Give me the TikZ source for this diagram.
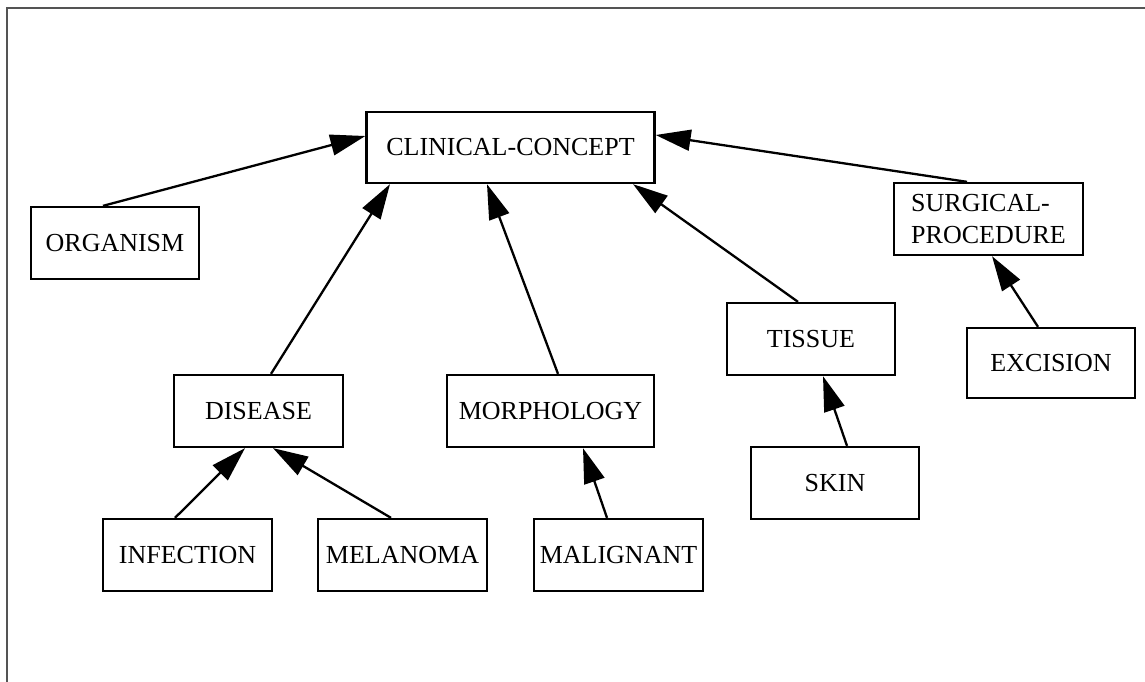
\documentclass[tikz,border=0pt]{standalone}
\usepackage{fontspec}
\setmainfont{Liberation Serif}
\usetikzlibrary{arrows.meta}
\definecolor{framegray}{gray}{0.33}
\tikzset{
  box/.style={draw, line width=2.3pt, inner sep=0pt, minimum height=72pt,
    minimum width=168pt, font=\fontsize{26pt}{32pt}\selectfont, align=center},
  edge/.style={line width=2.3pt, -{Triangle[length=35pt,width=21pt]}},
  frameline/.style={draw=framegray, line width=1.8pt}
}
\begin{document}
\begin{tikzpicture}[x=1pt, y=-1pt]
  \path[use as bounding box] (0,0) rectangle (1145,682);
  % outer frame (left and top edges)
  \coordinate (fbl) at (7,682);
  \coordinate (ftl) at (7,8);
  \coordinate (ftr) at (1145,8);
  \draw[frameline] (fbl) -- (ftl) -- (ftr);

  % concept nodes
  \node[box, minimum width=288pt, minimum height=71pt] (clinical) at (510.5,147.5) {CLINICAL-CONCEPT};
  \node[box] (organism) at (115,243) {ORGANISM};
  \node[box, minimum width=189pt, align=left] (surgical) at (988.5,219) {SURGICAL-\\PROCEDURE};
  \node[box] (tissue) at (811,339) {TISSUE};
  \node[box, minimum height=70pt] (excision) at (1051,363) {EXCISION};
  \node[box] (skin) at (835,483) {SKIN};
  \node[box, minimum width=169pt] (disease) at (258.5,411) {DISEASE};
  \node[box, minimum width=207pt] (morphology) at (550.5,411) {MORPHOLOGY};
  \node[box, minimum width=169pt] (infection) at (187.5,555) {INFECTION};
  \node[box, minimum width=169pt] (melanoma) at (402.5,555) {MELANOMA};
  \node[box, minimum width=169pt] (malignant) at (618.5,555) {MALIGNANT};

  % is-a links
  \draw[edge] ([xshift=-12pt]organism.north) -- ([yshift=11.5pt]clinical.west);
  \draw[edge] ([xshift=12.5pt]disease.north) -- ([xshift=-120.5pt]clinical.south);
  \draw[edge] ([xshift=7.5pt]morphology.north) -- ([xshift=-23.5pt]clinical.south);
  \draw[edge] ([xshift=-13pt]tissue.north) -- ([xshift=122.5pt]clinical.south);
  \draw[edge] ([xshift=-21.5pt]surgical.north) -- ([yshift=12.5pt]clinical.east);
  \draw[edge] ([xshift=-12.5pt]infection.north) -- ([xshift=-13.5pt]disease.south);
  \draw[edge] ([xshift=-11.5pt]melanoma.north) -- ([xshift=14.5pt]disease.south);
  \draw[edge] ([xshift=-11.5pt]malignant.north) -- ([xshift=32.5pt]morphology.south);
  \draw[edge] ([xshift=12pt]skin.north) -- ([xshift=12pt]tissue.south);
  \draw[edge] ([xshift=-13pt]excision.north) -- ([xshift=3.5pt]surgical.south);
\end{tikzpicture}
\end{document}
